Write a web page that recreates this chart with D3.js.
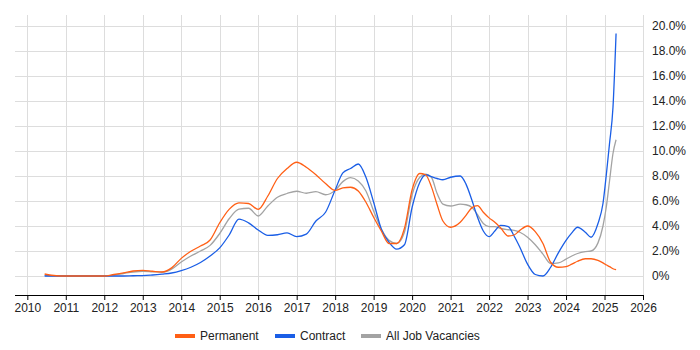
<!DOCTYPE html>
<html>
<head>
<meta charset="utf-8">
<script src="https://cdn.jsdelivr.net/npm/d3@7"></script>
<style>
  body { margin: 0; background: #fff; }
  svg text { font-family: "Liberation Sans", Arial, sans-serif; fill: #222; }
</style>
</head>
<body>
<div id="chart"></div>
<script>
// decimal years shared by all three series
const dates = [2010.45, 2010.75, 2011.0, 2011.5, 2012.0, 2012.25, 2012.5, 2012.75, 2013.0, 2013.25,
  2013.5, 2013.75, 2014.0, 2014.25, 2014.5, 2014.75, 2015.0, 2015.25, 2015.5, 2015.75,
  2016.0, 2016.25, 2016.5, 2016.75, 2017.0, 2017.25, 2017.5, 2017.75, 2018.0, 2018.2,
  2018.4, 2018.6, 2018.8, 2019.0, 2019.2, 2019.4, 2019.6, 2019.8, 2020.0, 2020.2,
  2020.35, 2020.5, 2020.65, 2020.8, 2021.0, 2021.25, 2021.4, 2021.55, 2021.7, 2021.85,
  2022.0, 2022.15, 2022.3, 2022.5, 2022.65, 2022.8, 2023.0, 2023.2, 2023.4, 2023.6,
  2023.8, 2024.0, 2024.15, 2024.3, 2024.5, 2024.65, 2024.83, 2024.96, 2025.05, 2025.13,
  2025.22, 2025.3];

const permanent = [0.16, 0.02, 0, 0, 0, 0.12, 0.25, 0.4, 0.45, 0.38,
  0.32, 0.65, 1.41, 1.98, 2.4, 2.88, 4.26, 5.35, 5.85, 5.8,
  5.33, 6.4, 7.8, 8.6, 9.1, 8.7, 8.1, 7.4, 6.85, 7.05,
  7.1, 6.8, 5.9, 4.7, 3.6, 2.6, 2.6, 3.8, 6.9, 8.2,
  8.1, 7.15, 5.7, 4.4, 3.9, 4.3, 4.85, 5.45, 5.63, 5.1,
  4.65, 4.3, 3.85, 3.2, 3.28, 3.65, 4.0, 3.55, 2.6, 1.1,
  0.7, 0.75, 0.95, 1.18, 1.38, 1.38, 1.25, 1.05, 0.88, 0.75,
  0.58, 0.5];

const contract = [0, 0, 0, 0, 0, 0, 0, 0.02, 0.03, 0.08,
  0.15, 0.24, 0.43, 0.7, 1.08, 1.6, 2.25, 3.3, 4.55, 4.25,
  3.68, 3.25, 3.3, 3.45, 3.15, 3.35, 4.4, 5.1, 6.88, 8.25,
  8.6, 8.96, 7.9, 5.9, 3.75, 2.7, 2.15, 2.5, 5.5, 7.5,
  8.1, 7.95, 7.8, 7.7, 7.9, 8.0, 7.35, 6.1, 4.7, 3.6,
  3.15, 3.6, 4.05, 3.95, 3.2, 2.3, 0.95, 0.12, 0.0, 0.7,
  1.85, 2.85, 3.45, 3.9, 3.5, 3.1, 4.2, 5.8, 8.2, 10.6,
  13.5, 19.4];

const allJobs = [0.05, 0.01, 0, 0, 0, 0.08, 0.2, 0.32, 0.38, 0.34,
  0.3, 0.55, 1.12, 1.6, 2.0, 2.45, 3.4, 4.6, 5.35, 5.42,
  4.8, 5.6, 6.3, 6.6, 6.78, 6.62, 6.75, 6.5, 6.85, 7.55,
  7.87, 7.6, 6.8, 5.2, 3.75, 2.85, 2.6, 3.5, 6.5, 7.9,
  8.15, 7.9, 6.6, 5.75, 5.6, 5.75, 5.7, 5.5, 4.9, 4.2,
  3.95, 3.95, 3.8, 3.7, 3.65, 3.5, 3.1, 2.5, 1.75, 1.0,
  1.05, 1.35, 1.6, 1.8, 1.95, 2.0, 2.65, 4.0, 5.6, 7.6,
  9.8, 10.9];

const seriesNames = ['Permanent', 'Contract', 'All Job Vacancies'];
const seriesColors = ['#ff5f15', '#1a5ee6', '#a3a3a3'];
const yearTicks = d3.range(2010, 2027);
const pctTicks = d3.range(0, 21, 2);

const width = 700, height = 350;
const margin = {top: 15, right: 57, bottom: 55, left: 15};

const svg = d3.select('#chart').append('svg')
  .attr('width', width)
  .attr('height', height);

const x = d3.scaleLinear()
  .domain([2009.68, 2026])
  .range([margin.left, width - margin.right]);

const y = d3.scaleLinear()
  .domain([-1.52, 20.88])
  .range([height - margin.bottom, margin.top]);

// grid
let grid = svg.append('g').attr('class', 'grid');
grid.selectAll('line.h')
  .data(pctTicks)
  .join('line')
  .attr('class', 'h')
  .attr('x1', margin.left)
  .attr('x2', width - margin.right)
  .attr('y1', d => Math.round(y(d)) + 0.5)
  .attr('y2', d => Math.round(y(d)) + 0.5)
  .attr('stroke', '#dddddd');

grid.selectAll('line.v')
  .data(yearTicks)
  .join('line')
  .attr('class', 'v')
  .attr('x1', d => Math.round(x(d)) + 0.5)
  .attr('x2', d => Math.round(x(d)) + 0.5)
  .attr('y1', margin.top)
  .attr('y2', height - margin.bottom)
  .attr('stroke', '#dddddd');

// lines
const line = d3.line()
  .x(d => x(d[0]))
  .y(d => y(d[1]))
  .curve(d3.curveMonotoneX);

const allSeries = [permanent, contract, allJobs];
// draw the overall line first, then contract, then permanent on top
[2, 1, 0].forEach(function(i) {
  svg.append('path')
    .datum(dates.map((t, j) => [t, allSeries[i][j]]))
    .attr('fill', 'none')
    .attr('stroke', seriesColors[i])
    .attr('stroke-width', 1.3)
    .attr('stroke-linejoin', 'round')
    .attr('d', line);
});

// x axis
const xAxis = svg.append('g')
  .attr('transform', `translate(0,${height - margin.bottom})`)
  .call(d3.axisBottom(x).tickValues(yearTicks).tickFormat(d3.format('d')).tickSize(5).tickPadding(3));
xAxis.select('.domain').attr('stroke', '#000').attr('d', `M${margin.left},0.5H${width - margin.right}`);
xAxis.selectAll('.tick line').attr('stroke', '#000');
xAxis.selectAll('text').style('font-size', '12px').attr('fill', '#222');

// y axis on the right, labels only
const yAxis = svg.append('g')
  .attr('transform', `translate(${width - margin.right},0)`)
  .call(d3.axisRight(y).tickValues(pctTicks)
    .tickFormat(d => d === 0 ? '0%' : d3.format('.1f')(d) + '%')
    .tickSize(0).tickPadding(9));
yAxis.select('.domain').remove();
yAxis.selectAll('text').style('font-size', '12px').attr('fill', '#222');

// legend
const legendX = [175, 275, 361];
let legend = svg.append('g').attr('class', 'legend');
let item = legend.selectAll('g')
  .data(seriesNames)
  .join('g')
  .attr('transform', (d, i) => `translate(${legendX[i]},336)`);

item.append('rect')
  .attr('x', 0)
  .attr('y', -2)
  .attr('width', 20)
  .attr('height', 4)
  .attr('fill', (d, i) => seriesColors[i]);

item.append('text')
  .attr('x', 25)
  .attr('dy', '.35em')
  .style('font-size', '12px')
  .text(d => d);
</script>
</body>
</html>
